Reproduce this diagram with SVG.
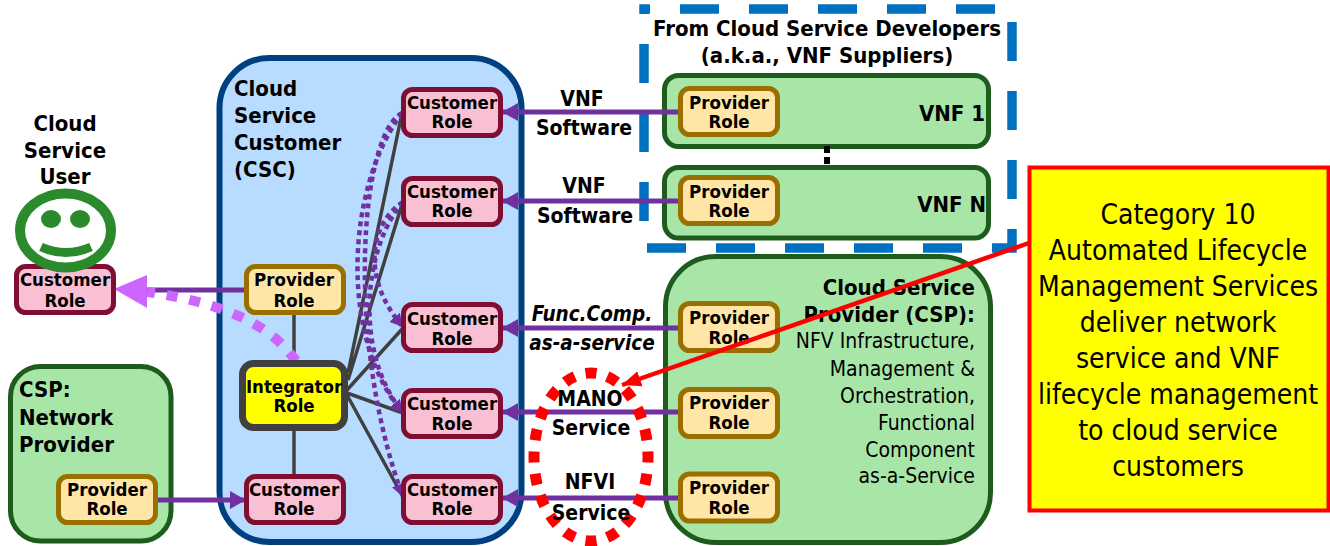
<svg xmlns="http://www.w3.org/2000/svg" width="1330" height="546" viewBox="0 0 1330 546">
<style>
text{font-family:"DejaVu Sans Condensed","DejaVu Sans",sans-serif;fill:#000}
.b{font-weight:bold}
.m{text-anchor:middle}
.e{text-anchor:end}
.r{font-size:18.5px;font-weight:bold;text-anchor:middle}
.h{font-size:22px;font-weight:bold}
.l{font-size:21px;font-weight:bold;text-anchor:middle}
.i{font-size:20.5px;font-weight:bold;font-style:italic;text-anchor:middle}
.d{font-size:21px;text-anchor:end}
.y{font-family:"DejaVu Sans Condensed","DejaVu Sans",sans-serif;font-size:28px;text-anchor:middle}
.cust{fill:#f9c0d4;stroke:#7f0f32;stroke-width:5}
.prov{fill:#ffe6a6;stroke:#996f00;stroke-width:5}
.green{fill:#a8e6a8;stroke:#1e5c1e;stroke-width:5}
.flow{stroke:#7030a0;stroke-width:5;fill:none}
.gray{stroke:#404040;stroke-width:3.5;fill:none}
.dot{stroke:#7030a0;stroke-width:4.5;fill:none;stroke-dasharray:5 4}
</style>
<defs>
<marker id="pa" markerUnits="userSpaceOnUse" markerWidth="18" markerHeight="20" refX="16" refY="10" orient="auto"><path d="M0 1 L16 10 L0 19 Z" fill="#7030a0"/></marker>
<marker id="da" markerUnits="userSpaceOnUse" markerWidth="14" markerHeight="16" refX="13" refY="8" orient="auto"><path d="M0 1 L13 8 L0 15 Z" fill="#7030a0"/></marker>
<marker id="ra" markerUnits="userSpaceOnUse" markerWidth="20" markerHeight="18" refX="19" refY="9" orient="auto"><path d="M0 1 L19 9 L0 17 Z" fill="#ff0000"/></marker>
</defs>

<g id="csc-panel">
<rect x="219.500" y="58" width="302" height="484" rx="50" fill="#b8dcff" stroke="#004080" stroke-width="6"/>
<text class="h" x="234" y="96">Cloud</text><text class="h" x="234" y="123">Service</text><text class="h" x="234" y="150">Customer</text><text class="h" x="234" y="177">(CSC)</text>
</g>
<g id="network-provider-panel">
<rect x="10.500" y="366.500" width="160.500" height="174.500" rx="30" class="green"/>
<text class="h" x="19" y="397">CSP:</text><text class="h" x="19" y="425">Network</text><text class="h" x="19" y="452">Provider</text>
</g>
<g id="supplier-frame">
<path d="M644 9 H1012 V248 H644 Z" fill="none" stroke="#0070c0" stroke-width="9.500" stroke-dasharray="39 30" stroke-dashoffset="33"/>
<text class="h m" x="827" y="36">From Cloud Service Developers</text>
<text class="h m" x="827" y="63">(a.k.a., VNF Suppliers)</text>
</g>
<g id="vnf-1">
<rect x="664.500" y="75.500" width="324" height="71" rx="14" class="green"/>
<text class="h e" x="985" y="121">VNF 1</text>
</g>
<g id="vnf-n">
<rect x="664.500" y="167.500" width="324" height="70.500" rx="14" class="green"/>
<text class="h e" x="986" y="212">VNF N</text>
</g>
<g id="csp-panel">
<rect x="665.500" y="256.500" width="325" height="286" rx="50" class="green"/>
<text class="h e" x="975" y="295">Cloud Service</text>
<text class="h e" x="975" y="322">Provider (CSP):</text>
<text class="d" x="975" y="348">NFV Infrastructure,</text>
<text class="d" x="975" y="376">Management &amp;</text>
<text class="d" x="975" y="403">Orchestration,</text>
<text class="d" x="975" y="430">Functional</text>
<text class="d" x="975" y="457">Component</text>
<text class="d" x="975" y="483">as-a-Service</text>
</g>

<g id="connectors">
<path class="gray" d="M294 315V360M294 431V474"/>
<path class="gray" d="M348 373L402 113M348 380L403 201M347 390L403 328M347 393L403 413M347 395L403 497"/>
<path class="dot" d="M402 113C360 135 345 340 403 497" marker-end="url(#da)"/>
<path class="dot" d="M403 202C368 225 362 280 403 327" marker-end="url(#da)"/>
<path class="dot" d="M402 113C345 190 340 340 403 413" marker-end="url(#da)"/>
<path class="dot" d="M403 202C365 245 352 350 403 413" stroke-width="5.500"/>
<path class="flow" d="M680 112H502" marker-end="url(#pa)"/>
<path class="flow" d="M680 201H502" marker-end="url(#pa)"/>
<path class="flow" d="M680 328H502" marker-end="url(#pa)"/>
<path class="flow" d="M680 412H502" marker-end="url(#pa)"/>
<path class="flow" d="M680 498H502" marker-end="url(#pa)"/>
<path class="flow" d="M156 500H246" marker-end="url(#pa)"/>
<path class="flow" d="M245 290H140"/>
<path d="M296 361C276 333 240 305 147 292" fill="none" stroke="#cc66ff" stroke-width="10" stroke-dasharray="11 12"/>
<path d="M114 289L147 275V308Z" fill="#cc66ff"/>
<path d="M827 146V164" stroke="#000" stroke-width="6" stroke-dasharray="7 4" fill="none"/>
</g>

<g id="mano-nfvi-highlight">
<ellipse cx="591" cy="457" rx="57" ry="84" fill="none" stroke="#ff0000" stroke-width="11" pathLength="20" stroke-dasharray="0.5 0.5" stroke-dashoffset="0.25"/>
</g>
<g id="flow-labels">
<text class="l" x="582" y="106">VNF</text><text class="l" x="584" y="135">Software</text>
<text class="l" x="584" y="193">VNF</text><text class="l" x="585" y="223">Software</text>
<text class="i" x="592" y="321">Func.Comp.</text><text class="i" x="592" y="350">as-a-service</text>
<text class="l" x="590" y="406">MANO</text><text class="l" x="591" y="435">Service</text>
<text class="l" x="590" y="489">NFVI</text><text class="l" x="591" y="520">Service</text>
</g>

<g id="cloud-service-user">
<text class="h m" x="65" y="131">Cloud</text><text class="h m" x="65" y="158">Service</text><text class="h m" x="65" y="184">User</text>
<rect x="16.500" y="266.500" width="97" height="46" rx="9" class="cust"/>
<text class="r" x="65" y="286">Customer</text><text class="r" x="65" y="307">Role</text>
<ellipse cx="65.500" cy="230.500" rx="45.500" ry="37" fill="none" stroke="#2b8a2b" stroke-width="10"/>
<ellipse cx="51" cy="219" rx="10" ry="9" fill="#2b8a2b"/><ellipse cx="80" cy="219" rx="10" ry="9" fill="#2b8a2b"/>
<path d="M41 247Q66 258 91 247" fill="none" stroke="#2b8a2b" stroke-width="9"/>
</g>
<g id="csc-provider"><rect x="246.500" y="266.500" width="97" height="46" rx="9" class="prov"/><text class="r" x="294" y="286">Provider</text><text class="r" x="294" y="307">Role</text></g>
<g id="integrator"><rect x="242.500" y="363.500" width="102" height="64" rx="11" fill="#ffff00" stroke="#404040" stroke-width="7"/><text class="r" x="294" y="393">Integrator</text><text class="r" x="294" y="412">Role</text></g>
<g id="csc-customer-network"><rect x="246.500" y="476.500" width="97" height="46" rx="9" class="cust"/><text class="r" x="294" y="496">Customer</text><text class="r" x="294" y="515">Role</text></g>
<g id="network-provider-role"><rect x="58.500" y="476.500" width="97" height="46" rx="9" class="prov"/><text class="r" x="107" y="496">Provider</text><text class="r" x="107" y="515">Role</text></g>

<g id="customer-1"><rect x="403.500" y="89.500" width="97" height="46" rx="9" class="cust"/><text class="r" x="452" y="109">Customer</text><text class="r" x="452" y="128">Role</text></g>
<g id="customer-2"><rect x="403.500" y="178.500" width="97" height="46" rx="9" class="cust"/><text class="r" x="452" y="198">Customer</text><text class="r" x="452" y="217">Role</text></g>
<g id="customer-3"><rect x="403.500" y="304.500" width="97" height="46" rx="9" class="cust"/><text class="r" x="452" y="325">Customer</text><text class="r" x="452" y="345">Role</text></g>
<g id="customer-4"><rect x="403.500" y="390.500" width="97" height="46" rx="9" class="cust"/><text class="r" x="452" y="410">Customer</text><text class="r" x="452" y="430">Role</text></g>
<g id="customer-5"><rect x="403.500" y="476.500" width="97" height="46" rx="9" class="cust"/><text class="r" x="452" y="496">Customer</text><text class="r" x="452" y="515">Role</text></g>

<g id="provider-vnf-1"><rect x="680.500" y="88.500" width="97" height="46" rx="9" class="prov"/><text class="r" x="729" y="109">Provider</text><text class="r" x="729" y="128">Role</text></g>
<g id="provider-vnf-n"><rect x="680.500" y="177.500" width="97" height="46" rx="9" class="prov"/><text class="r" x="729" y="198">Provider</text><text class="r" x="729" y="217">Role</text></g>
<g id="provider-func"><rect x="680.500" y="303.500" width="97" height="47" rx="9" class="prov"/><text class="r" x="729" y="324">Provider</text><text class="r" x="729" y="344">Role</text></g>
<g id="provider-mano"><rect x="680.500" y="389.500" width="97" height="47" rx="9" class="prov"/><text class="r" x="729" y="409">Provider</text><text class="r" x="729" y="429">Role</text></g>
<g id="provider-nfvi"><rect x="680.500" y="474" width="97" height="47" rx="9" class="prov"/><text class="r" x="729" y="494">Provider</text><text class="r" x="729" y="514">Role</text></g>

<g id="callout">
<rect x="1029.500" y="167.500" width="299" height="343" fill="#ffff00" stroke="#ff0000" stroke-width="4"/>
<text class="y" x="1178" y="224">Category 10</text>
<text class="y" x="1178" y="260">Automated Lifecycle</text>
<text class="y" x="1178" y="296">Management Services</text>
<text class="y" x="1178" y="332">deliver network</text>
<text class="y" x="1178" y="368">service and VNF</text>
<text class="y" x="1178" y="404">lifecycle management</text>
<text class="y" x="1178" y="440">to cloud service</text>
<text class="y" x="1178" y="476">customers</text>
</g>
<g id="callout-arrow">
<path d="M1029 243L622 385" stroke="#ff0000" stroke-width="4.500" fill="none" marker-end="url(#ra)"/>
</g>
</svg>
